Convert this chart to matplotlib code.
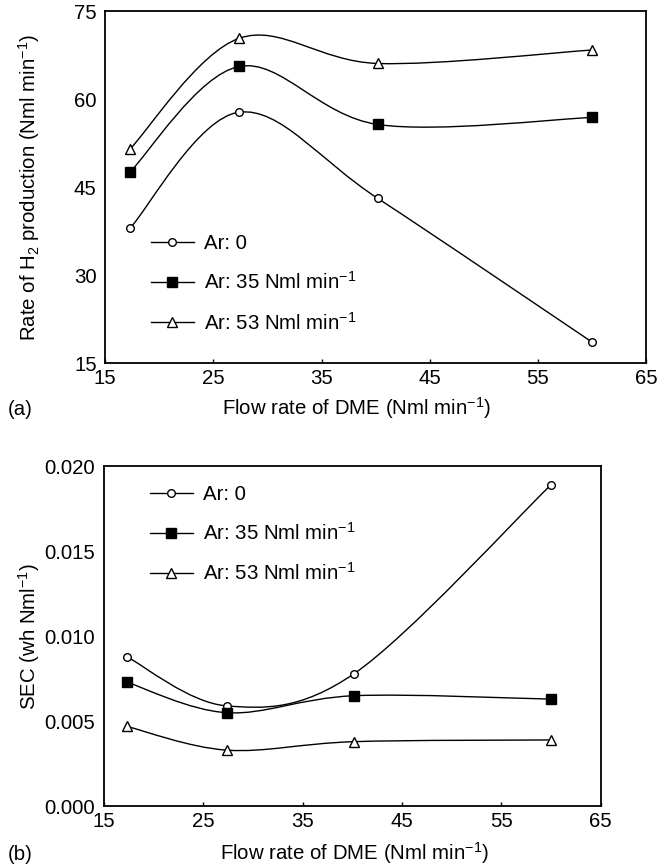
import numpy as np
import matplotlib
matplotlib.use("Agg")
import matplotlib.pyplot as plt
from matplotlib.path import Path
from matplotlib.patches import PathPatch

plt.rcParams['font.family'] = ['Liberation Sans', 'DejaVu Sans']
plt.rcParams['font.size'] = 14.7
plt.rcParams['mathtext.default'] = 'regular'

# flow rate of DME (Nml/min)
flow = [17.3, 27.4, 40.2, 60.0]

# (a) rate of H2 production
h2_ar0 = [38.0, 57.8, 43.1, 18.6]
h2_ar35 = [47.6, 65.6, 55.7, 56.9]
h2_ar53 = [51.5, 70.4, 66.1, 68.4]

# (b) SEC
sec_ar0 = [0.0088, 0.0059, 0.0078, 0.0189]
sec_ar35 = [0.0073, 0.0055, 0.0065, 0.0063]
sec_ar53 = [0.0047, 0.0033, 0.0038, 0.0039]

labels = ['Ar: 0', 'Ar: 35 Nml min$^{-1}$', 'Ar: 53 Nml min$^{-1}$']
markers = [dict(marker='o', mfc='white', ms=5.5),
           dict(marker='s', mfc='black', ms=6.5),
           dict(marker='^', mfc='white', ms=7.5)]


def smooth_line(ax, x, y):
    # excel-like smoothed line: cubic bezier through the points
    pts = np.column_stack([np.asarray(x, float), np.asarray(y, float)])
    verts = [pts[0]]
    codes = [Path.MOVETO]
    n = len(pts)
    for i in range(n - 1):
        p0 = pts[i - 1] if i > 0 else pts[i]
        p1 = pts[i]
        p2 = pts[i + 1]
        p3 = pts[i + 2] if i + 2 < n else pts[i + 1]
        verts += [p1 + (p2 - p0) / 6, p2 - (p3 - p1) / 6, p2]
        codes += [Path.CURVE4] * 3
    ax.add_patch(PathPatch(Path(verts, codes), fc='none', ec='black', lw=1.0))


def panel(ax, series, ylim, yticks, yfmt, ylabel, leg_loc, leg_anchor, label_x):
    for ys, lab, mk in zip(series, labels, markers):
        smooth_line(ax, flow, ys)
        ax.plot(flow, ys, ls='none', color='black', mec='black', mew=1.0, **mk, zorder=3)
        ax.plot([], [], color='black', lw=1.0, mec='black', mew=1.0, label=lab, **mk)
    ax.set_xlim(15, 65)
    ax.set_ylim(*ylim)
    ax.set_xticks([15, 25, 35, 45, 55, 65])
    ax.set_yticks(yticks)
    ax.set_yticklabels([yfmt.format(v) for v in yticks])
    ax.tick_params(axis='x', direction='in', length=3, width=1, pad=4)
    ax.tick_params(axis='y', length=0, pad=6)
    for s in ax.spines.values():
        s.set_linewidth(1.3)
    ax.set_ylabel(ylabel)
    ax.yaxis.set_label_coords(label_x, 0.5)
    ax.legend(loc=leg_loc, bbox_to_anchor=leg_anchor, frameon=False, numpoints=1,
              handlelength=2.1, labelspacing=0.9, handletextpad=0.5, borderaxespad=0,
              borderpad=0)


fig = plt.figure(figsize=(6.69, 8.67), dpi=100)

ax1 = fig.add_axes([0.157, 0.581, 0.809, 0.406])
panel(ax1, [h2_ar0, h2_ar35, h2_ar53], (15, 75), [15, 30, 45, 60, 75], '{:g}',
      'Rate of H$_2$ production (Nml min$^{-1}$)', 'lower left', (0.085, 0.085), -0.116)

ax2 = fig.add_axes([0.155, 0.070, 0.743, 0.3925])
panel(ax2, [sec_ar0, sec_ar35, sec_ar53], (0, 0.02),
      [0, 0.005, 0.01, 0.015, 0.02], '{:.3f}', 'SEC (wh Nml$^{-1}$)',
      'upper left', (0.093, 0.945), -0.125)

fig.text(0.533, 1 - 408 / 867, 'Flow rate of DME (Nml min$^{-1}$)', ha='center', va='center')
fig.text(0.53, 1 - 853 / 867, 'Flow rate of DME (Nml min$^{-1}$)', ha='center', va='center')
fig.text(0.012, 1 - 409 / 867, '(a)', ha='left', va='center')
fig.text(0.012, 1 - 854 / 867, '(b)', ha='left', va='center')

fig.savefig('out.png', dpi=100)
